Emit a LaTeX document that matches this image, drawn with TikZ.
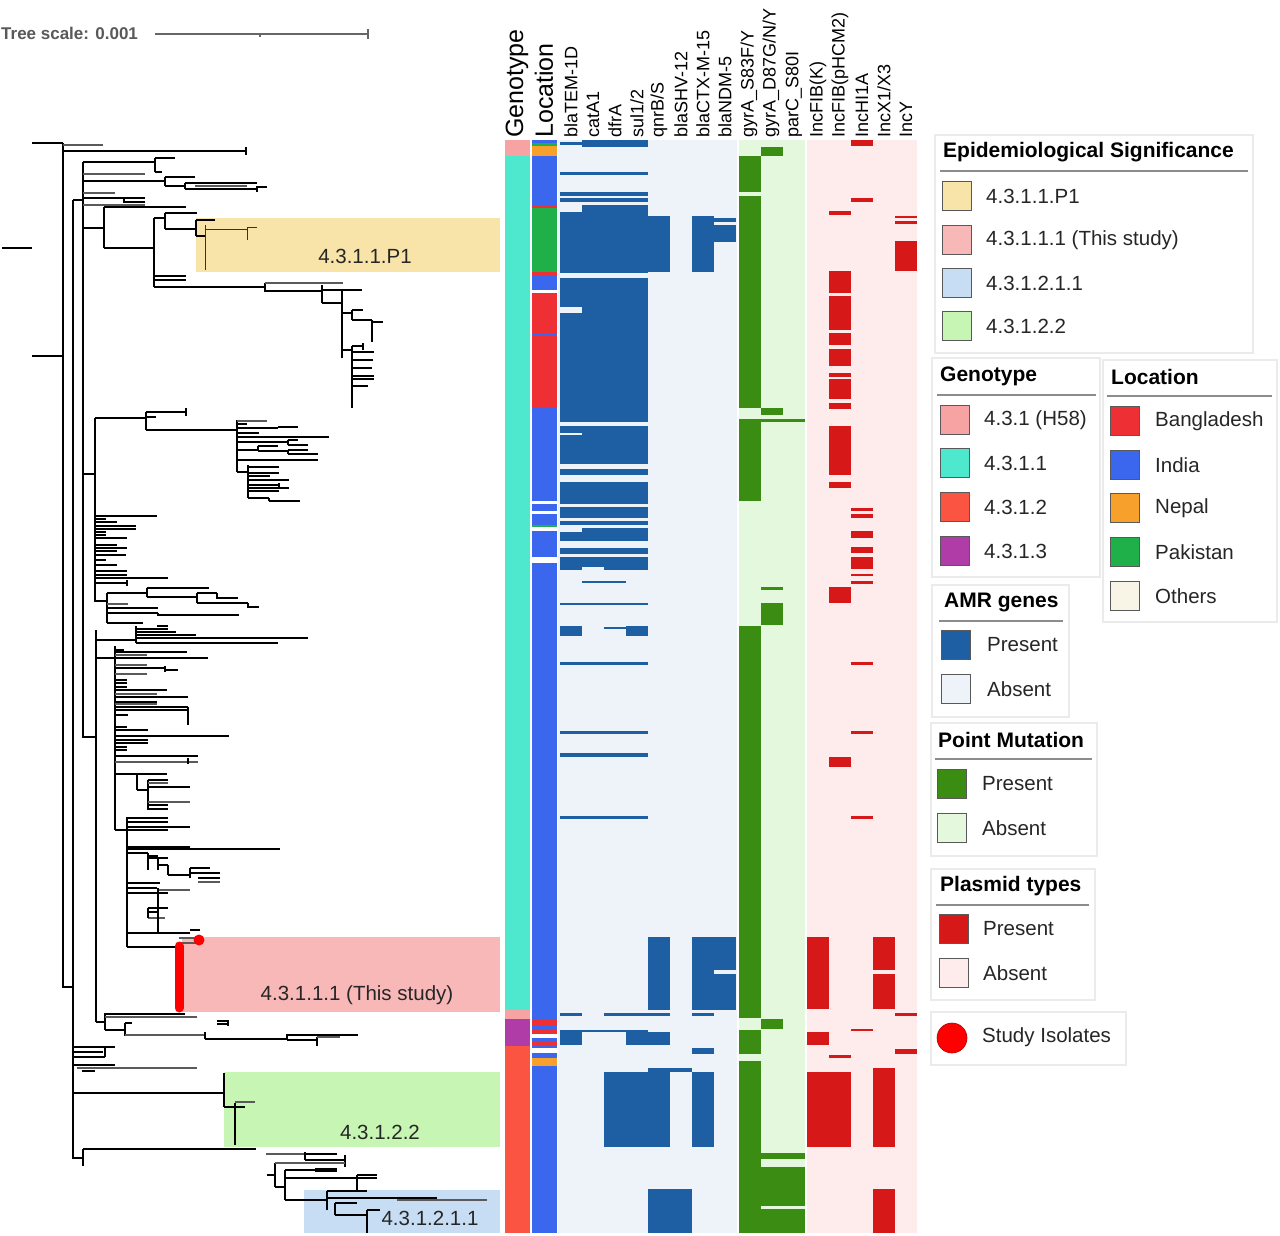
\documentclass[tikz,border=0pt]{standalone}
\usepackage{fontspec}
\setmainfont{Liberation Sans}
\definecolor{gpink}{HTML}{F7A3A3}
\definecolor{gturq}{HTML}{4DE8CE}
\definecolor{gred}{HTML}{FB5442}
\definecolor{gpurp}{HTML}{B03CA8}
\definecolor{lbang}{HTML}{EE3035}
\definecolor{lind}{HTML}{3A67EE}
\definecolor{lnep}{HTML}{F8A02C}
\definecolor{lpak}{HTML}{20B04A}
\definecolor{loth}{HTML}{F8F5E6}
\definecolor{amrp}{HTML}{1E5EA2}
\definecolor{amra}{HTML}{EEF3FA}
\definecolor{ptp}{HTML}{3A8D12}
\definecolor{pta}{HTML}{E3F8DD}
\definecolor{plp}{HTML}{D71818}
\definecolor{pla}{HTML}{FEECEC}
\definecolor{hyel}{HTML}{F8E3A9}
\definecolor{hpink}{HTML}{F8B8B8}
\definecolor{hblue}{HTML}{C6DDF3}
\definecolor{hgreen}{HTML}{C7F5B3}
\definecolor{treegray}{HTML}{5A5A5A}
\begin{document}
\begin{tikzpicture}[x=1pt,y=-1pt,
 tb/.style={line width=2.4pt,black},
 tn/.style={line width=1.5pt,black},
 tg/.style={line width=1.7pt,treegray},
 tw/.style={line width=0.9pt,black!80},
 hdr/.style={rotate=90,anchor=west,inner sep=0pt,font=\fontsize{18}{18}\selectfont},
 hdrbig/.style={rotate=90,anchor=west,inner sep=0pt,font=\fontsize{25}{25}\selectfont},
 legbox/.style={draw=black!8,fill=white,line width=1.2pt},
 legtitle/.style={anchor=west,inner sep=0pt,font=\bfseries\fontsize{21}{24}\selectfont},
 legtext/.style={anchor=west,inner sep=0pt,font=\fontsize{20.5}{24}\selectfont,text=black!85},
 swatch/.style={minimum size=29pt,inner sep=0pt,draw=black!65,line width=0.9pt},
 hl/.style={font=\fontsize{20.5}{24}\selectfont,text=black!85,inner sep=0pt},
 uline/.style={line width=1.2pt,black!45}
]
\useasboundingbox (0,0) rectangle (1280,1236);
\fill[white] (0,0) rectangle (1280,1236);

% ---------- tree scale ----------
\node[anchor=west,inner sep=0pt,font=\bfseries\fontsize{17}{17}\selectfont,text=black!65] (tscale) at (1,33) {Tree scale: 0.001};
\coordinate (sa) at (155,34);
\coordinate (sb) at (368,34);
\draw[line width=2pt,black!60] (sa)--(sb);
\draw[line width=2pt,black!60] (260,33)--(260,37) (368,29)--(368,39);

% ---------- clade highlights ----------
\fill[hyel] (196,218) rectangle (500,272);
\fill[hpink] (182,937) rectangle (500,1012);
\fill[hgreen] (224,1072) rectangle (500,1147);
\fill[hblue] (304,1190) rectangle (500,1233);
\node[hl] (lP1) at (365,256) {4.3.1.1.P1};
\node[hl] (lTS) at (357,995) {4.3.1.1.1 (This study)};
\node[hl] (l122) at (380,1132) {4.3.1.2.2};
\node[hl] (l1211) at (430,1218) {4.3.1.2.1.1};

% ---------- tree: backbone ----------
\draw[tb] (2,248)--(32,248);
\draw[tb] (32,143)--(63,143) (32,356)--(63,356);
\draw[tb] (63,143)--(63,360);
\draw[tn] (63,360)--(63,623);
\draw[tb] (63,623)--(63,987)--(73,987);
\draw[tg] (63,145)--(103,145);
\draw[tb] (63,151)--(246,151) (246,147)--(246,155);
\draw[tn] (73,200)--(73,1047);
\draw[tb] (73,200)--(83,200);
\draw[tb] (83,162)--(83,737)--(96,737);

% top cluster
\draw[tn] (83,162)--(155,162) (155,158)--(155,172) (155,158)--(175,158) (155,172)--(162,172);
\draw[tg] (83,174)--(145,174);
\draw[tn] (83,181)--(165,181) (165,177)--(165,186) (165,177)--(195,177) (165,186)--(185,186) (185,183)--(185,189) (185,183)--(257,183) (185,189)--(257,189) (257,186)--(257,192) (257,187)--(267,187);
\draw[tg] (195,186)--(247,186) (83,193)--(115,193) (83,205)--(145,205);
\draw[tn] (83,198)--(145,198) (124,198)--(124,203) (124,202)--(145,202);
\draw[tb] (83,228)--(104,228) (104,207)--(104,248);
\draw[tn] (104,207)--(186,207);
\draw[tb] (104,248)--(154,248) (154,218)--(154,287);
\draw[tn] (154,218)--(165,218) (165,213)--(165,229) (165,213)--(197,213) (165,229)--(196,229) (196,220)--(196,236) (196,220)--(215,220) (196,236)--(205,236);
\draw[tw] (205,225)--(205,270) (205,229)--(247,229) (247,227)--(247,240) (247,227)--(257,227);
\draw[tn] (154,276)--(186,276) (154,280)--(186,280);
\draw[tb] (154,287)--(265,287) (265,283)--(265,292);
\draw[tg] (265,283)--(343,283);
\draw[tb] (265,291)--(322,291) (322,285)--(322,303) (322,290)--(362,290);
\draw[tn] (322,303)--(343,303) (342,290)--(342,358) (342,313)--(352,313) (352,310)--(352,320) (352,310)--(363,310) (352,320)--(372,320) (372,320)--(372,342) (372,322)--(383,322);
\draw[tn] (342,350)--(352,350) (352,346)--(352,408) (352,346)--(363,346) (363,343)--(363,350);
\foreach \y/\x in {352/374,360/373,368/372,376/374,379/374,386/368} \draw[tn] (352,\y)--(\x,\y);

% middle cluster
\draw[tb] (83,474)--(95,474);
\draw[tn] (95,418)--(95,602);
\draw[tn] (95,418)--(146,418) (146,412)--(146,430) (146,412)--(186,412) (186,408)--(186,416) (146,430)--(237,430) (237,420)--(237,472);
\draw[tb] (146,417)--(156,417);
\draw[tg] (237,421)--(267,421);
\foreach \y/\x in {424/247,428/278,433/259,437/329,442/288,450/258,460/318} \draw[tn] (237,\y)--(\x,\y);
\draw[tn] (278,427)--(298,427) (288,440)--(288,445) (288,440)--(298,440) (288,445)--(308,445) (258,446)--(258,451) (258,446)--(278,446) (258,451)--(288,451) (288,450)--(288,454) (288,450)--(308,450) (288,454)--(318,454);
\draw[tn] (237,472)--(248,472) (248,465)--(248,498);
\foreach \y/\x in {467/279,473/279,476/270,480/289,485/279,488/289,491/279,498/269} \draw[tn] (248,\y)--(\x,\y);
\draw[tn] (269,498)--(269,501) (269,501)--(300,501) (279,483)--(279,487);
\foreach \y/\x in {516/157,519/106,522/117,526/136,529/136,532/106,535/106,538/127,545/117,548/127,551/117,555/126,560/106,565/117,571/127,575/127,578/168,583/127} \draw[tn] (95,\y)--(\x,\y);
\draw[tn] (127,580)--(127,586);
\draw[tn] (95,601)--(107,601) (107,593)--(107,623) (107,593)--(147,593) (147,588)--(147,597) (147,588)--(209,588) (147,597)--(197,597) (197,593)--(197,603) (197,593)--(217,593) (217,593)--(217,598)--(238,598) (197,603)--(248,603) (248,603)--(248,607)--(259,607);
\draw[tg] (107,604)--(128,604);
\draw[tn] (107,608)--(158,608) (107,613)--(158,613) (158,613)--(158,615)--(239,615) (107,623)--(143,623);

% lower cluster
\draw[tn] (96,630)--(96,1022);
\draw[tn] (96,640)--(136,640) (136,626)--(136,643);
\draw[tb] (136,629)--(168,629) (136,632)--(176,632) (136,635)--(196,635) (157,626)--(168,626);
\draw[tn] (136,638)--(308,638) (136,643)--(226,643);
\draw[line width=2.8pt] (226,643)--(278,643);
\draw[tn] (96,658)--(115,658) (115,646)--(115,830) (115,830)--(127,830);
\foreach \y/\x in {650/124,652/187,658/208,668/165,680/127,683/127,687/127,690/167,697/188,702/157,707/188,710/188,715/128,727/127,736/229,747/127,750/127,756/198,774/137} \draw[tn] (115,\y)--(\x,\y);
\foreach \y/\x in {655/147,665/147,674/147,694/157,704/157,762/198} \draw[tg] (115,\y)--(\x,\y);
\draw[tb] (115,730)--(148,730) (115,740)--(148,740) (115,743)--(148,743);
\draw[tn] (165,670)--(178,670) (165,666)--(165,672) (188,707)--(188,725) (188,758)--(188,764);
\draw[tn] (137,774)--(137,790) (137,774)--(167,774) (137,790)--(148,790) (148,780)--(148,810) (148,780)--(168,780) (148,805)--(168,805) (148,809)--(168,809) (178,787)--(190,787);
\draw[tg] (148,783)--(168,783) (148,802)--(190,802);
\draw[tb] (148,787)--(178,787);
\draw[tn] (127,817)--(127,947);
\draw[tb] (127,818)--(168,818) (127,827)--(157,827) (127,830)--(168,830) (127,847)--(190,847);
\draw[tn] (127,822)--(168,822) (157,827)--(190,827) (127,849)--(280,849) (127,883)--(160,883) (127,888)--(157,888) (127,893)--(168,893) (127,933)--(190,933) (127,947)--(175,947);
\draw[tn] (127,853)--(148,853) (148,853)--(148,870) (148,856)--(158,856) (148,858)--(168,858) (158,858)--(158,870) (158,865)--(168,865) (168,865)--(168,875) (168,875)--(190,875) (190,868)--(190,878) (190,873)--(220,873);
\draw[tb] (190,868)--(210,868) (198,878)--(220,878);
\draw[tg] (198,882)--(220,882) (158,890)--(190,890) (148,918)--(165,918);
\draw[tn] (158,888)--(158,932) (158,912)--(148,912) (148,908)--(148,918) (148,908)--(168,908);
\draw[tb] (190,930)--(200,930);

% study isolates
\draw[tg] (179,938)--(200,938) (179,943)--(195,943);
\draw[red,line width=9pt,line cap=round] (179,946)--(179,1008);
\fill[red] (199,940) circle (5.5pt);

% bottom part
\draw[tn] (96,1022)--(105,1022) (105,1013)--(105,1030);
\draw[tb] (105,1014)--(185,1014);
\draw[tg] (105,1017)--(197,1017);
\draw[tb] (105,1030)--(125,1030) (125,1023)--(125,1036);
\draw[tn] (125,1023)--(132,1023);
\draw[tg] (125,1035)--(205,1035);
\draw[tb] (205,1032)--(205,1039) (205,1039)--(287,1039) (287,1034)--(287,1040);
\draw[tn] (217,1021)--(228,1021)--(228,1026) (217,1024)--(228,1024) (287,1035)--(358,1035) (287,1040)--(317,1040) (317,1037)--(317,1046);
\draw[tg] (317,1037)--(340,1037);
\draw[tn] (73,1047)--(115,1047) (73,1057)--(105,1057) (105,1047)--(105,1057) (73,1065)--(115,1065) (82,1071)--(95,1071);
\draw[tb] (73,1052)--(103,1052);
\draw[tg] (77,1068)--(197,1068);
\draw[tb] (73,1047)--(73,1158)--(83,1158);
\draw[tb] (73,1093)--(224,1093) (224,1073)--(224,1107);
\draw[tn] (224,1107)--(245,1107) (235,1103)--(235,1145);
\draw[tg] (235,1102)--(255,1102);
\draw[tb] (83,1149)--(256,1149) (83,1149)--(83,1166);
\draw[tg] (266,1154)--(305,1154);
\draw[tn] (305,1154)--(337,1154) (305,1152)--(305,1160) (305,1160)--(345,1160) (345,1155)--(345,1167);
\draw[tb] (267,1175)--(275,1175) (275,1163)--(275,1187) (275,1187)--(285,1187) (285,1170)--(285,1200) (285,1200)--(327,1200);
\draw[tg] (275,1163)--(345,1163);
\draw[tb] (285,1170)--(337,1170);
\draw[line width=3.5pt] (315,1170)--(337,1170);
\draw[tb] (285,1178)--(377,1178);
\draw[tn] (357,1175)--(357,1190) (357,1175)--(377,1175);
\draw[tn] (327,1191)--(367,1191) (327,1191)--(327,1210) (327,1198)--(437,1198) (335,1203)--(357,1203) (335,1203)--(335,1215) (335,1215)--(367,1215) (367,1210)--(367,1233) (367,1210)--(380,1210);
\draw[tg] (397,1200)--(487,1200);

% ---------- heatmap ----------
% genotype
\fill[gpink] (505,140) rectangle (530,156);
\fill[gturq] (505,156) rectangle (530,1010);
\fill[gpink] (505,1010) rectangle (530,1019);
\fill[gpurp] (505,1019) rectangle (530,1046);
\fill[gred] (505,1046) rectangle (530,1233);
% location
\fill[lind] (532,140) rectangle (557,1233);
\foreach \a/\b/\c in {lpak/143/146,lnep/146/156,lbang/205/208,lpak/208/272,lbang/272/275,white/290/293,lbang/293/333,lbang/335/408,white/501/504,white/511/514,lpak/525/527,white/527/531,white/557/563,lbang/1019/1025,lbang/1030/1034,white/1034/1038,lbang/1042/1046,white/1048/1053,lnep/1058/1066}
  \fill[\a] (532,\b) rectangle (557,\c);
% backgrounds
\fill[amra] (558,140) rectangle (737,1233);
\fill[pta] (739,140) rectangle (805,1233);
\fill[pla] (807,140) rectangle (917,1233);
% AMR present
\foreach \a/\b/\c/\d in {582/140/648/147,560/142/582/145,560/172/648/175,560/192/648/196,560/198/648/202,582/205/648/212,560/212/648/273,648/216/670/272,692/216/714/272,714/218/736/222,714/225/736/242,560/278/648/307,582/307/648/313,560/313/648/422,560/426/648/433,582/433/648/435,560/435/648/464,560/469/648/475,560/482/648/504,560/507/648/518,560/521/648/525,582/528/648/532,560/532/648/541,560/548/648/554,560/557/648/567,560/567/582/570,604/567/648/570,582/581/626/583,560/603/648/605,560/626/582/636,604/627/626/629,626/626/648/636,560/662/648/665,560/731/648/734,560/753/648/757,560/816/648/819,648/937/670/1010,692/937/714/1010,714/937/736/970,714/974/736/1010,560/1013/582/1016,604/1013/670/1016,692/1013/714/1016,560/1030/648/1032,560/1032/582/1045,626/1032/670/1045,692/1048/714/1054,648/1068/692/1072,604/1072/670/1147,692/1072/714/1147,648/1189/692/1233}
  \fill[amrp] (\a,\b) rectangle (\c,\d);
% point mutations present
\foreach \a/\b/\c/\d in {761/147/783/156,739/156/761/192,739/196/761/408,761/408/783/415,739/419/805/422,739/422/761/501,761/587/783/590,761/603/783/625,739/626/761/1018,761/1019/783/1029,739/1030/761/1054,739/1061/761/1233,761/1153/805/1159,761/1167/805/1206,761/1209/805/1233}
  \fill[ptp] (\a,\b) rectangle (\c,\d);
% plasmid present
\foreach \a/\b/\c/\d in {851/140/873/146,851/198/873/202,829/211/851/215,895/216/917/218,895/221/917/224,895/241/917/271,829/271/851/293,829/296/851/330,829/333/851/345,829/349/851/366,829/373/851/377,829/379/851/399,829/403/851/409,829/426/851/475,829/482/851/488,851/508/873/511,851/514/873/518,851/531/873/538,851/547/873/553,851/557/873/569,851/574/873/576,851/581/873/584,829/587/851/603,851/662/873/665,851/731/873/734,829/757/851/767,851/816/873/819,807/937/829/1009,873/937/895/970,873/974/895/1009,895/1013/917/1016,851/1029/873/1031,807/1032/829/1045,895/1049/917/1054,829/1055/851/1058,807/1072/851/1147,873/1068/895/1147,873/1189/895/1233}
  \fill[plp] (\a,\b) rectangle (\c,\d);

% ---------- column headers ----------
\node[hdrbig] (hGen) at (517,138) {Genotype};
\node[hdrbig] (hLoc) at (544,138) {Location};
\node[hdr] (h1) at (571,138) {blaTEM-1D};
\node[hdr] (h2) at (593,138) {catA1};
\node[hdr] (h3) at (615,138) {dfrA};
\node[hdr] (h4) at (637,138) {sul1/2};
\node[hdr] (h5) at (659,138) {qnrB/S};
\node[hdr] (h6) at (681,138) {blaSHV-12};
\node[hdr] (h7) at (703,138) {blaCTX-M-15};
\node[hdr] (h8) at (725,138) {blaNDM-5};
\node[hdr] (h9) at (749,138) {gyrA\_S83F/Y};
\node[hdr] (h10) at (771,138) {gyrA\_D87G/N/Y};
\node[hdr] (h11) at (794,138) {parC\_S80I};
\node[hdr] (h12) at (818,138) {IncFIB(K)};
\node[hdr] (h13) at (840,138) {IncFIB(pHCM2)};
\node[hdr] (h14) at (862,138) {IncHI1A};
\node[hdr] (h15) at (884,138) {IncX1/X3};
\node[hdr] (h16) at (906,138) {IncY};

% ---------- legends ----------
\draw[legbox] (935,135) rectangle (1253,353);
\node[legtitle] (tEpi) at (943,152) {Epidemiological Significance};
\draw[uline] (940,171)--(1248,171);
\node[swatch,fill=hyel] (e1) at (957,196) {};
\node[swatch,fill=hpink] (e2) at (957,240) {};
\node[swatch,fill=hblue] (e3) at (957,283) {};
\node[swatch,fill=hgreen] (e4) at (957,326) {};
\node[legtext] (te1) at (986,196) {4.3.1.1.P1};
\node[legtext] (te2) at (986,240) {4.3.1.1.1 (This study)};
\node[legtext] (te3) at (986,283) {4.3.1.2.1.1};
\node[legtext] (te4) at (986,326) {4.3.1.2.2};

\draw[legbox] (932,358) rectangle (1100,577);
\node[legtitle] (tGen) at (940,376) {Genotype};
\draw[uline] (937,395)--(1096,395);
\node[swatch,fill=gpink] (g1) at (955,420) {};
\node[swatch,fill=gturq] (g2) at (955,463) {};
\node[swatch,fill=gred] (g3) at (955,507) {};
\node[swatch,fill=gpurp] (g4) at (955,551) {};
\node[legtext] (tg1) at (984,420) {4.3.1 (H58)};
\node[legtext] (tg2) at (984,463) {4.3.1.1};
\node[legtext] (tg3) at (984,507) {4.3.1.2};
\node[legtext] (tg4) at (984,551) {4.3.1.3};

\draw[legbox] (1103,360) rectangle (1277,622);
\node[legtitle] (tLoc) at (1111,377) {Location};
\draw[uline] (1107,396)--(1272,396);
\node[swatch,fill=lbang] (c1) at (1125,421) {};
\node[swatch,fill=lind] (c2) at (1125,465) {};
\node[swatch,fill=lnep] (c3) at (1125,508) {};
\node[swatch,fill=lpak] (c4) at (1125,552) {};
\node[swatch,fill=loth] (c5) at (1125,596) {};
\node[legtext] (tc1) at (1155,421) {Bangladesh};
\node[legtext] (tc2) at (1155,465) {India};
\node[legtext] (tc3) at (1155,508) {Nepal};
\node[legtext] (tc4) at (1155,552) {Pakistan};
\node[legtext] (tc5) at (1155,596) {Others};

\draw[legbox] (932,585) rectangle (1069,717);
\node[legtitle] (tAmr) at (944,602) {AMR genes};
\draw[uline] (939,621)--(1063,621);
\node[swatch,fill=amrp] (a1) at (956,645) {};
\node[swatch,fill=amra] (a2) at (956,689) {};
\node[legtext] (ta1) at (987,645) {Present};
\node[legtext] (ta2) at (987,689) {Absent};

\draw[legbox] (931,723) rectangle (1097,856);
\node[legtitle] (tPm) at (938,740) {Point Mutation};
\draw[uline] (935,759)--(1092,759);
\node[swatch,fill=ptp] (p1) at (952,784) {};
\node[swatch,fill=pta] (p2) at (952,828) {};
\node[legtext] (tp1) at (982,784) {Present};
\node[legtext] (tp2) at (982,828) {Absent};

\draw[legbox] (931,869) rectangle (1095,1000);
\node[legtitle] (tPl) at (940,886) {Plasmid types};
\draw[uline] (936,905)--(1089,905);
\node[swatch,fill=plp] (q1) at (954,929) {};
\node[swatch,fill=pla] (q2) at (954,973) {};
\node[legtext] (tq1) at (983,929) {Present};
\node[legtext] (tq2) at (983,973) {Absent};

\draw[legbox] (931,1012) rectangle (1126,1065);
\node[circle,fill=red,draw=red!70!black,line width=0.6pt,minimum size=30pt,inner sep=0pt] (s1) at (952,1038) {};
\node[legtext] (ts1) at (982,1037) {Study Isolates};
\end{tikzpicture}
\end{document}
